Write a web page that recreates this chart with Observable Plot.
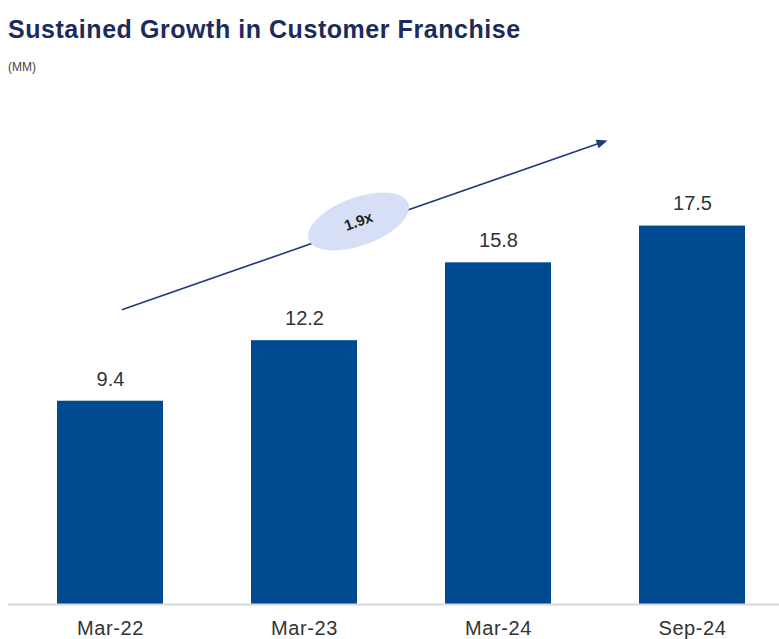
<!DOCTYPE html>
<html>
<head>
<meta charset="utf-8">
<script src="https://cdn.jsdelivr.net/npm/d3@7"></script>
<script src="https://cdn.jsdelivr.net/npm/@observablehq/plot@0.6"></script>
<style>
  html, body { margin: 0; padding: 0; background: #fff; }
  body { width: 779px; height: 639px; overflow: hidden; font-family: "Liberation Sans", Arial, sans-serif; }
  #header { height: 80px; position: relative; }
  #title { position: absolute; left: 8px; top: 15px; font-size: 25px; font-weight: bold; color: #1c2b5c; letter-spacing: 0.55px; white-space: nowrap; }
  #subtitle { position: absolute; left: 8px; top: 60px; font-size: 12px; color: #444; }
  #chart svg { display: block; }
  #chart g[aria-label="x-axis tick label"] { letter-spacing: 0.6px; }
</style>
</head>
<body>
<div id="header">
  <div id="title">Sustained Growth in Customer Franchise</div>
  <div id="subtitle">(MM)</div>
</div>
<div id="chart"></div>
<script>
const categories = ["Mar-22", "Mar-23", "Mar-24", "Sep-24"];
const customers = [9.4, 12.2, 15.8, 17.5];
const valueLabels = ["9.4", "12.2", "15.8", "17.5"];
const growthLabel = ["1.9x"];

const data = categories.map((c, i) => ({ period: c, value: customers[i], label: valueLabels[i] }));

const barColor = "#004a92";
const arrowColor = "#1f3b78";
const angle = -20 * Math.PI / 180;
const arrowAngle = Math.atan2(-169, 485);

const ellipseSymbol = {
  draw(context) {
    const a = 53, b = 24, n = 60;
    const c = Math.cos(angle), s = Math.sin(angle);
    for (let k = 0; k <= n; k++) {
      const t = (k / n) * 2 * Math.PI;
      const ex = a * Math.cos(t), ey = b * Math.sin(t);
      const px = ex * c - ey * s, py = ex * s + ey * c;
      if (k === 0) context.moveTo(px, py); else context.lineTo(px, py);
    }
    context.closePath();
  }
};

const headSymbol = {
  draw(context) {
    const c = Math.cos(arrowAngle), s = Math.sin(arrowAngle);
    const pts = [[0, 0], [-11, -4.5], [-11, 4.5]];
    pts.forEach(([x, y], k) => {
      const px = x * c - y * s, py = x * s + y * c;
      if (k === 0) context.moveTo(px, py); else context.lineTo(px, py);
    });
    context.closePath();
  }
};

const chart = Plot.plot({
  width: 779,
  height: 559,
  marginLeft: 8,
  marginRight: 0,
  marginTop: 5,
  marginBottom: 35,
  style: { fontFamily: "'Liberation Sans', Arial, sans-serif", background: "#fff" },
  x: { domain: categories, paddingInner: 0.454, paddingOuter: 0.214, align: 0.59, label: null },
  y: { domain: [0, 24], axis: null },
  marks: [
    Plot.barY(data, { x: "period", y: "value", fill: barColor }),
    Plot.ruleY([0], { stroke: "#d9d9d9", strokeWidth: 2 }),
    Plot.text(data, { x: "period", y: "value", text: "label", dy: -22, fontSize: 20, fill: "#333", lineAnchor: "middle" }),
    Plot.arrow([{ x1: "Mar-22", y1: 13.45, x2: "Sep-24", y2: 22.83 }], {
      x1: "x1", y1: "y1", x2: "x2", y2: "y2",
      insetStart: 12.7, insetEnd: 98, stroke: arrowColor, strokeWidth: 1.6, headLength: 0
    }),
    Plot.dot([0], { x: () => "Sep-24", y: () => 21.46, dx: -85, symbol: headSymbol, r: 5, fill: arrowColor, stroke: "none" }),
    Plot.dot(growthLabel, { x: () => "Mar-23", y: () => 17.71, dx: 54, symbol: ellipseSymbol, r: 10, fill: "#d7dff7", stroke: "none" }),
    Plot.text(growthLabel, { x: () => "Mar-23", y: () => 17.71, dx: 54, text: d => d, rotate: -20, fontSize: 15, fontWeight: "bold", fill: "#222" }),
    Plot.axisX({ tickSize: 0, tickPadding: 16, fontSize: 20, fill: "#333", label: null })
  ]
});
document.getElementById("chart").appendChild(chart);
</script>
</body>
</html>
